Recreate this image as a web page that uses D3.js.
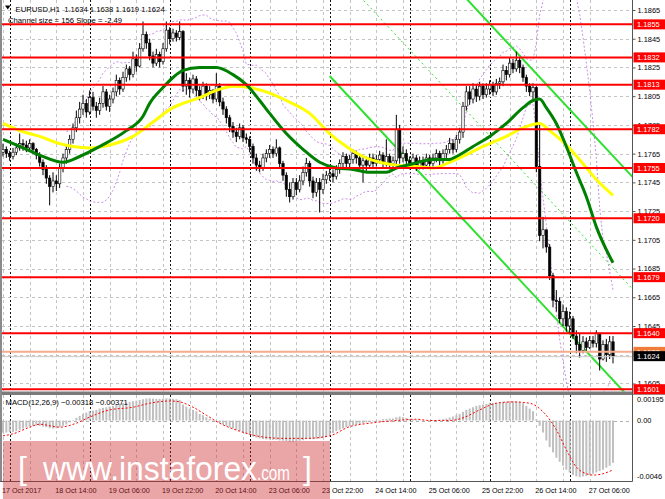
<!DOCTYPE html>
<html><head><meta charset="utf-8">
<script src="https://cdn.jsdelivr.net/npm/d3@7"></script>
<style>body{margin:0;background:#fff;} svg{display:block;}</style>
</head><body>
<svg id="c" width="665" height="499"></svg>
<script>
// ---------------- DATA ----------------
const symbol = "EURUSD", timeframe = "H1";
const firstOpen = 1.1766;
const closes = [
1.1768,1.1765,1.1763,1.1766,1.1769,1.1772,1.1771,1.1769,1.1772,1.1768,
1.1764,1.1759,1.1754,1.1748,1.1742,1.1746,1.1744,1.1755,1.1762,1.1768,
1.1775,1.1783,1.1790,1.1796,1.1800,1.1794,1.1804,1.1798,1.1795,1.1800,
1.1808,1.1798,1.1803,1.1808,1.1816,1.1810,1.1818,1.1824,1.1820,1.1831,
1.1826,1.1838,1.1848,1.1842,1.1833,1.1828,1.1834,1.1829,1.1838,1.1851,
1.1845,1.1849,1.1846,1.1850,1.1812,1.1816,1.1810,1.1817,1.1809,1.1805,
1.1812,1.1806,1.1809,1.1803,1.1812,1.1801,1.1796,1.1790,1.1784,1.1780,
1.1777,1.1783,1.1776,1.1775,1.1770,1.1762,1.1757,1.1755,1.1762,1.1765,
1.1768,1.1765,1.1769,1.1758,1.1750,1.1740,1.1735,1.1745,1.1740,1.1746,
1.1752,1.1758,1.1746,1.1738,1.1745,1.1740,1.1747,1.1750,1.1751,1.1749,
1.1754,1.1758,1.1763,1.1758,1.1761,1.1765,1.1762,1.1757,1.1760,1.1757,
1.1762,1.1758,1.1761,1.1764,1.1758,1.1763,1.1758,1.1760,1.1782,1.1762,
1.1765,1.1760,1.1758,1.1762,1.1756,1.1760,1.1757,1.1762,1.1758,1.1762,
1.1765,1.1760,1.1765,1.1768,1.1772,1.1768,1.1775,1.1780,1.1798,1.1808,
1.1803,1.1810,1.1805,1.1812,1.1806,1.1810,1.1813,1.1808,1.1814,1.1815,
1.1823,1.1820,1.1828,1.1824,1.1830,1.1825,1.1818,1.1812,1.1808,1.1811,
1.1756,1.1708,1.1712,1.1700,1.1680,1.1663,1.1662,1.1650,1.1655,1.1645,
1.1650,1.1638,1.1632,1.1628,1.1634,1.1630,1.1635,1.1633,1.1640,1.1622,
1.1632,1.1625,1.1634,1.1624];
const highs = [
1.1772,1.1770,1.1767,1.1769,1.1772,1.1779,1.1775,1.1774,1.1775,1.1773,
1.1769,1.1766,1.1761,1.1757,1.1750,1.1752,1.1750,1.1758,1.1765,1.1771,
1.1778,1.1786,1.1795,1.1801,1.1806,1.1803,1.1809,1.1808,1.1801,1.1804,
1.1812,1.1810,1.1806,1.1811,1.1820,1.1818,1.1822,1.1827,1.1826,1.1836,
1.1834,1.1842,1.1857,1.1850,1.1845,1.1836,1.1838,1.1836,1.1842,1.1857,
1.1853,1.1852,1.1851,1.1857,1.1851,1.1821,1.1818,1.1820,1.1819,1.1812,
1.1815,1.1814,1.1812,1.1810,1.1821,1.1814,1.1804,1.1798,1.1792,1.1787,
1.1783,1.1786,1.1785,1.1779,1.1777,1.1772,1.1765,1.1760,1.1765,1.1768,
1.1771,1.1770,1.1775,1.1770,1.1760,1.1752,1.1745,1.1748,1.1748,1.1750,
1.1756,1.1762,1.1760,1.1749,1.1748,1.1748,1.1751,1.1753,1.1755,1.1754,
1.1757,1.1761,1.1766,1.1765,1.1764,1.1768,1.1767,1.1764,1.1763,1.1763,
1.1765,1.1765,1.1764,1.1767,1.1766,1.1775,1.1765,1.1763,1.1792,1.1785,
1.1770,1.1768,1.1763,1.1765,1.1764,1.1763,1.1763,1.1765,1.1764,1.1765,
1.1768,1.1767,1.1768,1.1771,1.1776,1.1775,1.1778,1.1783,1.1801,1.1812,
1.1812,1.1814,1.1813,1.1815,1.1814,1.1814,1.1816,1.1815,1.1817,1.1818,
1.1827,1.1826,1.1832,1.1831,1.1836,1.1832,1.1827,1.1820,1.1814,1.1814,
1.1812,1.1786,1.1721,1.1710,1.1702,1.1682,1.1670,1.1665,1.1660,1.1658,
1.1655,1.1652,1.1642,1.1640,1.1638,1.1637,1.1638,1.1638,1.1642,1.1640,
1.1635,1.1636,1.1638,1.1638];
const lows = [
1.1763,1.1762,1.1760,1.1761,1.1764,1.1767,1.1767,1.1766,1.1767,1.1765,
1.1761,1.1756,1.1750,1.1744,1.1729,1.1738,1.1739,1.1741,1.1752,1.1758,
1.1765,1.1772,1.1780,1.1786,1.1792,1.1790,1.1792,1.1795,1.1790,1.1792,
1.1797,1.1795,1.1794,1.1800,1.1805,1.1806,1.1808,1.1815,1.1816,1.1818,
1.1822,1.1825,1.1836,1.1838,1.1830,1.1825,1.1826,1.1825,1.1827,1.1836,
1.1841,1.1843,1.1843,1.1844,1.1808,1.1806,1.1804,1.1807,1.1805,1.1802,
1.1803,1.1802,1.1803,1.1800,1.1801,1.1798,1.1792,1.1786,1.1780,1.1776,
1.1773,1.1775,1.1773,1.1772,1.1766,1.1758,1.1753,1.1752,1.1753,1.1759,
1.1762,1.1762,1.1763,1.1755,1.1746,1.1735,1.1731,1.1733,1.1736,1.1738,
1.1743,1.1749,1.1742,1.1734,1.1735,1.1724,1.1737,1.1744,1.1746,1.1745,
1.1747,1.1751,1.1755,1.1755,1.1755,1.1758,1.1758,1.1754,1.1745,1.1753,
1.1755,1.1755,1.1756,1.1758,1.1755,1.1756,1.1754,1.1755,1.1756,1.1758,
1.1759,1.1757,1.1754,1.1755,1.1753,1.1754,1.1754,1.1755,1.1755,1.1756,
1.1759,1.1757,1.1758,1.1762,1.1765,1.1765,1.1766,1.1772,1.1776,1.1795,
1.1799,1.1800,1.1801,1.1802,1.1803,1.1804,1.1806,1.1805,1.1806,1.1810,
1.1812,1.1816,1.1818,1.1821,1.1822,1.1821,1.1815,1.1808,1.1805,1.1803,
1.1752,1.1704,1.1699,1.1696,1.1677,1.1658,1.1655,1.1647,1.1645,1.1641,
1.1640,1.1636,1.1626,1.1623,1.1626,1.1627,1.1629,1.1630,1.1630,1.1614,
1.1621,1.1620,1.1622,1.1619];

// moving averages (bar index, price)
const greenMABars = [0,5,11,18,23,29,37,42,44,48,51,54,59,64,69,73,77,80,85,90,95,100,105,110,115,118,123,129,134,136,141,146,151,156,159,161,163,166,169,172,175,178,183];
const greenMAVals = [1.1775,1.1770,1.1764,1.1759,1.1763,1.1770,1.1781,1.1791,1.1800,1.1811,1.1818,1.1823,1.1825,1.1825,1.1820,1.1813,1.1802,1.1793,1.1779,1.1768,1.1759,1.1755,1.1754,1.1752,1.1752,1.1755,1.1758,1.1761,1.1761,1.1763,1.1770,1.1777,1.1786,1.1797,1.1802,1.1803,1.1797,1.1786,1.1770,1.1752,1.1735,1.1714,1.1689];
const yellowMABars = [0,5,11,17,21,26,32,39,45,51,54,59,64,69,74,79,85,92,98,103,108,113,118,124,129,134,137,144,151,156,161,164,169,174,178,183];
const yellowMAVals = [1.1786,1.1781,1.1777,1.1772,1.1770,1.1769,1.1771,1.1777,1.1787,1.1797,1.1800,1.1804,1.1809,1.1812,1.1811,1.1808,1.1802,1.1793,1.1779,1.1770,1.1763,1.1759,1.1757,1.1756,1.1755,1.1759,1.1762,1.1770,1.1777,1.1783,1.1786,1.1781,1.1771,1.1758,1.1747,1.1736];

// regression channel
const channelStartBar = 98, channelRefBar = 156, channelMidAtRef = 1.17526;
const channelSlopePips = -2.49, channelSizePips = 156;

// Bollinger settings
const bbPeriod = 20, bbDev = 2;

// horizontal levels
const levels = [1.1855,1.1832,1.1813,1.1782,1.1755,1.1720,1.1679,1.1640,1.1601];
const bidPrice = 1.1624, askPrice = 1.1627;
const priceTicks = [1.1865,1.1845,1.1825,1.1805,1.1785,1.1765,1.1745,1.1725,1.1705,1.1685,1.1665,1.1645,1.1625,1.1605];

// time axis
const timeLabelBars = [0,16,32,48,64,80,96,112,128,144,160,176];
const timeLabels = ["17 Oct 2017","18 Oct 14:00","19 Oct 06:00","19 Oct 22:00","20 Oct 14:00","23 Oct 06:00","23 Oct 22:00","24 Oct 14:00","25 Oct 06:00","25 Oct 22:00","26 Oct 14:00","27 Oct 06:00"];
const daySeparatorBars = [2,26,50,74,98,122,146,170];

// MACD(12,26,9)
const macdHist = [
-0.0009,-0.0009,-0.00088,-0.00085,-0.0008,-0.0007,-0.0006,-0.0005,-0.00045,-0.0004,
-0.00038,-0.0004,-0.00045,-0.0005,-0.00058,-0.0006,-0.00058,-0.0005,-0.0004,-0.0003,
-0.00015,0.0000,0.0002,0.00035,0.0005,0.0006,0.0007,0.00075,0.0008,0.0009,
0.00095,0.001,0.00105,0.0011,0.0012,0.00125,0.0013,0.00135,0.0014,0.00145,
0.0015,0.00155,0.0016,0.00165,0.00167,0.00165,0.00163,0.00163,0.00165,0.00168,
0.00167,0.00163,0.0016,0.00155,0.0012,0.00105,0.0009,0.0008,0.0007,0.0005,
0.0004,0.00025,0.00012,0.0,-0.0001,-0.0002,-0.0003,-0.0004,-0.0005,-0.0006,
-0.0007,-0.0008,-0.0009,-0.001,-0.0011,-0.0012,-0.00128,-0.00135,-0.0014,-0.00142,
-0.00143,-0.00145,-0.00145,-0.0015,-0.00152,-0.00155,-0.0016,-0.0016,-0.00158,-0.00152,
-0.00148,-0.0014,-0.0014,-0.0014,-0.00138,-0.00135,-0.0013,-0.00122,-0.0011,-0.00095,
-0.0008,-0.0007,-0.0006,-0.0005,-0.0004,-0.00035,-0.0003,-0.00025,-0.0002,-0.00015,
-0.0001,-0.00005,0.0,0.00005,0.0001,0.00012,0.00015,0.00015,0.00025,0.0003,
0.00025,0.00018,0.00012,0.0001,0.00005,0.00003,0.0,0.0,0.0,0.00003,
0.00005,0.00008,0.0001,0.00015,0.00022,0.0003,0.0004,0.0005,0.00065,0.0008,
0.0009,0.001,0.0011,0.00115,0.0012,0.00125,0.0013,0.0013,0.00133,0.00135,
0.0014,0.00142,0.00145,0.00145,0.00143,0.0014,0.0013,0.0011,0.0009,0.0007,
0.0001,-0.0004,-0.0009,-0.0015,-0.002,-0.0024,-0.0028,-0.0031,-0.0034,-0.0037,
-0.0039,-0.0041,-0.0042,-0.00425,-0.0042,-0.00418,-0.0041,-0.004,-0.0039,-0.0038,
-0.0037,-0.00355,-0.0034,-0.00318];
const signalBars = [0,3,8,11,17,22,26,32,39,44,50,53,57,61,65,71,77,84,91,98,104,110,118,124,128,134,138,143,148,153,158,162,166,169,172,175,177,180,183];
const signalVals = [-0.00115,-0.001,-0.0005,-0.00028,-0.0005,-0.0002,0.00026,0.0008,0.001,0.0013,0.00147,0.0014,0.001,0.0004,-0.0002,-0.0008,-0.0012,-0.00134,-0.00134,-0.00115,-0.00046,-0.0002,0.0,0.0001,0.0,0.0,0.0002,0.0008,0.0013,0.0014,0.0013,0.00066,-0.0007,-0.0022,-0.0035,-0.004,-0.0041,-0.004,-0.00371];
const macdScaleTicks = [0.00195, 0.0, -0.0046];
const watermark = "www.instaforex", watermarkTld = ".com";

// ---------------- DRAW ----------------
const FONT = "'Liberation Sans', Arial, sans-serif";
const svg = d3.select("#c");
svg.append("rect").attr("width",665).attr("height",499).attr("fill","#fff");

const N = closes.length;
const x = d3.scaleLinear().domain([0, N-1]).range([3, 613]);
const y = d3.scaleLinear().domain([1.1601, 1.1865]).range([389.2, 10]);
const ym = d3.scaleLinear().domain([-0.0046, 0.00195]).range([481.7, 394.6]);
const AX = 632.5, MAIN_BOT = 391.5, SUB_TOP = 395, SUB_BOT = 481.5;

const defs = svg.append("defs");
defs.append("clipPath").attr("id","cm").append("rect").attr("x",2).attr("y",0).attr("width",AX-2).attr("height",MAIN_BOT);
defs.append("clipPath").attr("id","cd").append("rect").attr("x",2).attr("y",SUB_TOP).attr("width",AX-2).attr("height",SUB_BOT-SUB_TOP);
const gM = svg.append("g").attr("clip-path","url(#cm)");
const gD = svg.append("g").attr("clip-path","url(#cd)");

// grid
const gridBars = d3.range(0, N, 8);
[[gM,0,MAIN_BOT],[gD,SUB_TOP,SUB_BOT]].forEach(([g,t,b]) => {
  g.selectAll(null).data(gridBars).join("line")
    .attr("x1",d=>Math.round(x(d))+0.5).attr("x2",d=>Math.round(x(d))+0.5)
    .attr("y1",t).attr("y2",b).attr("stroke","#c4c4c4").attr("stroke-dasharray","3,3");
  g.selectAll(null).data(daySeparatorBars).join("line")
    .attr("x1",d=>Math.round(x(d))+0.5).attr("x2",d=>Math.round(x(d))+0.5)
    .attr("y1",t).attr("y2",b).attr("stroke","#111").attr("stroke-dasharray","2,2");
});
gM.selectAll(null).data(priceTicks).join("line")
  .attr("x1",2).attr("x2",AX).attr("y1",d=>Math.round(y(d))+0.5).attr("y2",d=>Math.round(y(d))+0.5)
  .attr("stroke","#c4c4c4").attr("stroke-dasharray","3,3");
gD.append("line").attr("x1",2).attr("x2",AX).attr("y1",Math.round(ym(0))+0.5).attr("y2",Math.round(ym(0))+0.5)
  .attr("stroke","#b0b0b0").attr("stroke-dasharray","3,3");

// bollinger bands (computed from closes)
const bbU = [], bbL = [];
for (let i = bbPeriod-1; i < N; i++) {
  const w = closes.slice(i-bbPeriod+1, i+1);
  const m = d3.mean(w), sd = Math.sqrt(d3.mean(w, v => (v-m)*(v-m)));
  bbU.push([i, m+bbDev*sd]); bbL.push([i, m-bbDev*sd]);
}
const lineP = d3.line().x(d=>x(d[0])).y(d=>y(d[1]));
[bbU,bbL].forEach(s => gM.append("path").attr("d",lineP(s)).attr("fill","none")
  .attr("stroke","#c98be8").attr("stroke-width",1).attr("stroke-dasharray","2,2"));

// channel
const chMid = i => channelMidAtRef + (i-channelRefBar)*channelSlopePips*1e-4;
const chEnd = x.invert(AX);
[[channelSizePips/2,false],[0,true],[-channelSizePips/2,false]].forEach(([off,dotted]) => {
  const pts = [channelStartBar, chEnd].map(i => [i, chMid(i)+off*1e-4]);
  gM.append("path").attr("d",lineP(pts)).attr("fill","none").attr("stroke","#2fe02f")
    .attr("stroke-width",dotted?1:2).attr("stroke-dasharray",dotted?"2,3":null);
});

// candles
const bars = closes.map((c,i)=>({i, o: i ? closes[i-1] : firstOpen, h: highs[i], l: lows[i], c}));
const bw = 2.4;
gM.selectAll(null).data(bars).join("line")
  .attr("x1",d=>x(d.i)).attr("x2",d=>x(d.i))
  .attr("y1",d=>y(Math.max(d.h,d.o,d.c))).attr("y2",d=>y(Math.min(d.l,d.o,d.c)))
  .attr("stroke","#000").attr("stroke-width",1);
gM.selectAll(null).data(bars).join("rect")
  .attr("x",d=>x(d.i)-bw/2).attr("y",d=>y(Math.max(d.o,d.c)))
  .attr("width",bw).attr("height",d=>Math.max(0.8,Math.abs(y(d.o)-y(d.c))))
  .attr("fill",d=>d.c>=d.o?"#fff":"#000").attr("stroke","#000").attr("stroke-width",0.6);

// moving averages
const curve = d3.line().x(d=>x(d[0])).y(d=>y(d[1])).curve(d3.curveMonotoneX);
gM.append("path").attr("d",curve(yellowMABars.map((b,k)=>[b,yellowMAVals[k]])))
  .attr("fill","none").attr("stroke","#ffff00").attr("stroke-width",3);
gM.append("path").attr("d",curve(greenMABars.map((b,k)=>[b,greenMAVals[k]])))
  .attr("fill","none").attr("stroke","#008000").attr("stroke-width",3);

// levels
gM.selectAll(null).data(levels).join("line")
  .attr("x1",2).attr("x2",AX).attr("y1",d=>y(d)).attr("y2",d=>y(d))
  .attr("stroke","#ff0000").attr("stroke-width",2);
gM.append("line").attr("x1",2).attr("x2",AX).attr("y1",y(askPrice)).attr("y2",y(askPrice))
  .attr("stroke","#f5ab8c").attr("stroke-width",2);
gM.append("line").attr("x1",2).attr("x2",AX).attr("y1",y(bidPrice)+0.5).attr("y2",y(bidPrice)+0.5)
  .attr("stroke","#c8c8c8").attr("stroke-width",1);

// MACD
gD.selectAll(null).data(macdHist).join("rect")
  .attr("x",(d,i)=>x(i)-1).attr("width",2)
  .attr("y",d=>Math.min(ym(d),ym(0))).attr("height",d=>Math.max(0.5,Math.abs(ym(d)-ym(0))))
  .attr("fill","#c0c0c0");
const curveM = d3.line().x(d=>x(d[0])).y(d=>ym(d[1])).curve(d3.curveMonotoneX);
gD.append("path").attr("d",curveM(signalBars.map((b,k)=>[b,signalVals[k]])))
  .attr("fill","none").attr("stroke","#ff0000").attr("stroke-width",1).attr("stroke-dasharray","2,2");

// frames / separators
svg.append("rect").attr("x",0).attr("y",MAIN_BOT).attr("width",AX).attr("height",SUB_TOP-MAIN_BOT).attr("fill","#7a7a7a");
svg.append("line").attr("x1",AX).attr("x2",665).attr("y1",SUB_TOP-0.5).attr("y2",SUB_TOP-0.5).attr("stroke","#9a9a9a");
svg.append("line").attr("x1",1).attr("x2",1).attr("y1",0).attr("y2",SUB_BOT).attr("stroke","#8a8a8a").attr("stroke-width",2);
svg.append("line").attr("x1",AX).attr("x2",AX).attr("y1",0).attr("y2",SUB_BOT).attr("stroke","#555");
svg.append("line").attr("x1",0).attr("x2",AX).attr("y1",SUB_BOT).attr("y2",SUB_BOT).attr("stroke","#555");

// price axis (labels fully covered by a price tag are left out, as they are hidden in the reference)
const tagPrices = levels.concat([bidPrice, askPrice]);
const visibleTicks = priceTicks.filter(t => !tagPrices.some(p => Math.abs(y(p)-y(t)) < 3));
const ax = d3.axisRight(y).tickValues(visibleTicks).tickFormat(d3.format(".4f")).tickSize(3).tickPadding(2);
const gAx = svg.append("g").attr("transform",`translate(${AX},0)`).call(ax);
gAx.select(".domain").remove();
gAx.attr("font-family",FONT).attr("font-size",7.4);
gAx.selectAll("text").attr("fill","#000");
gAx.selectAll("line").attr("stroke","#555");

// level labels
const lab = svg.append("g").attr("font-family",FONT).attr("font-size",7.4);
function tag(v, bg, fg) {
  lab.append("rect").attr("x",AX+1).attr("y",y(v)-5).attr("width",665-AX-1).attr("height",10).attr("fill",bg);
  lab.append("text").attr("x",AX+4.5).attr("y",y(v)+2.7).attr("fill",fg).text(d3.format(".4f")(v));
}
levels.forEach(v => tag(v, "#ff0000", "#fff"));
tag(askPrice, "#f07c3c", "#fff");
tag(bidPrice, "#000", "#fff");

// MACD axis labels
const mLab = svg.append("g").attr("font-family",FONT).attr("font-size",7.4).attr("fill","#000");
mLab.append("text").attr("x",AX+4.5).attr("y",ym(macdScaleTicks[0])+7).text("0.00195");
mLab.append("text").attr("x",AX+4.5).attr("y",ym(macdScaleTicks[1])+2.7).text("0.00");
mLab.append("text").attr("x",AX+4.5).attr("y",ym(macdScaleTicks[2])-3).text("-0.0046");
mLab.append("text").attr("x",5.5).attr("y",404.5).attr("font-size",7.7)
  .text(`MACD(12,26,9) ${d3.format(".5f")(macdHist[N-1])} ${d3.format(".5f")(signalVals[signalVals.length-1])}`);

// time axis
const tx = svg.append("g").attr("font-family",FONT).attr("font-size",7.2).attr("fill","#000");
tx.selectAll(null).data(timeLabelBars).join("text")
  .attr("x",d=>x(d)-1).attr("y",492.5).text((d,k)=>timeLabels[k]);

// header
svg.append("path").attr("d","M5,5.5 L10.5,5.5 L7.75,9.5 Z").attr("fill","#000");
const last = bars[N-1], f4 = d3.format(".4f");
svg.append("text").attr("x",15.5).attr("y",11.5).attr("font-family",FONT).attr("font-size",7.7)
  .attr("xml:space","preserve").style("white-space","pre")
  .text(`${symbol},${timeframe}  ${f4(last.o)} ${f4(last.h)} ${f4(last.l)} ${f4(last.c)}`);
svg.append("text").attr("x",8).attr("y",22.5).attr("font-family",FONT).attr("font-size",7.7)
  .text(`Channel size = ${channelSizePips} Slope = ${channelSlopePips}`);

// watermark
const wm = svg.append("g");
wm.append("rect").attr("x",3).attr("y",441).attr("width",327).attr("height",58).attr("fill","rgba(205,40,45,0.42)");
wm.append("text").attr("x",18).attr("y",479).attr("font-family",FONT).attr("font-size",32).attr("fill","#fff").text("[");
wm.append("text").attr("x",43).attr("y",480).attr("font-family",FONT).attr("font-size",34).attr("fill","#fff")
  .attr("textLength",214).attr("lengthAdjust","spacingAndGlyphs").text(watermark);
wm.append("text").attr("x",257).attr("y",480).attr("font-family",FONT).attr("font-size",21).attr("fill","#fff")
  .attr("textLength",33).attr("lengthAdjust","spacingAndGlyphs").text(watermarkTld);
wm.append("text").attr("x",303).attr("y",479).attr("font-family",FONT).attr("font-size",32).attr("fill","#fff").text("]");
</script>
</body></html>
